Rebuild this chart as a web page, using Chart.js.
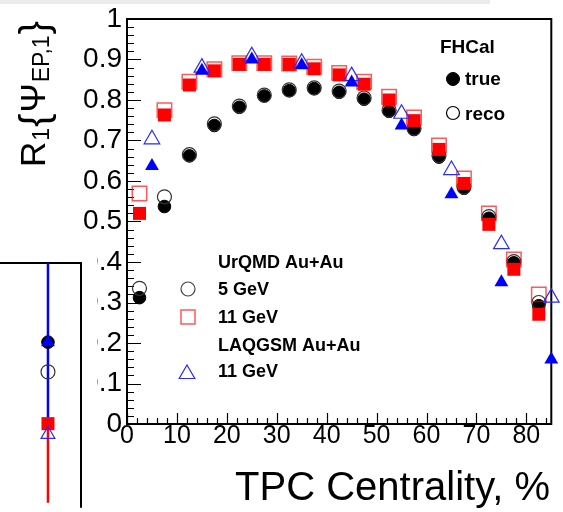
<!DOCTYPE html>
<html>
<head>
<meta charset="utf-8">
<script src="https://cdn.jsdelivr.net/npm/chart.js"></script>
<style>
  body { margin: 0; padding: 0; background: #fff; }
  #wrap { position: relative; width: 563px; height: 512px; overflow: hidden; }
  #main { position: absolute; left: 0; top: 0; }
  #inset { position: absolute; left: 0; top: 240px; background: #fff; }
  #topBar { position: absolute; left: 0; top: 0; width: 490px; height: 4px; background: #ebebeb; }
</style>
</head>
<body>
<div id="wrap">
  <canvas id="main" width="563" height="512"></canvas>
  <canvas id="inset" width="97" height="272"></canvas>
  <div id="topBar"></div>
</div>
<script>
const FONT = '"Liberation Sans", Arial, Helvetica, sans-serif';

// centrality bins (%)
const centUrqmd = [2.5, 7.5, 12.5, 17.5, 22.5, 27.5, 32.5, 37.5, 42.5, 47.5, 52.5, 57.5, 62.5, 67.5, 72.5, 77.5, 82.5];
const centLaqgsm = [5, 15, 25, 35, 45, 55, 65, 75, 85];

// R1{Psi_EP,1}
const urqmd5True  = [0.312, 0.537, 0.662, 0.737, 0.782, 0.810, 0.823, 0.828, 0.819, 0.802, 0.772, 0.727, 0.659, 0.582, 0.508, 0.398, 0.292];
const urqmd5Reco  = [0.335, 0.561, 0.665, 0.741, 0.785, 0.812, 0.825, 0.830, 0.822, 0.805, 0.775, 0.730, 0.663, 0.585, 0.512, 0.401, 0.300];
const urqmd11True = [0.520, 0.763, 0.837, 0.872, 0.888, 0.888, 0.888, 0.877, 0.862, 0.839, 0.800, 0.749, 0.678, 0.594, 0.493, 0.382, 0.271];
const urqmd11Reco = [0.569, 0.775, 0.845, 0.876, 0.891, 0.891, 0.890, 0.882, 0.867, 0.845, 0.808, 0.757, 0.688, 0.606, 0.520, 0.406, 0.320];
const laqgsmTrue  = [0.637, 0.872, 0.900, 0.886, 0.843, 0.737, 0.567, 0.350, 0.159];
const laqgsmReco  = [0.703, 0.880, 0.908, 0.892, 0.859, 0.766, 0.627, 0.444, 0.312];

// axis ticks
const xTickStep = 10, xMinorStep = 2;
const yTickStep = 0.1, yMinorStep = 0.02;

// cut-off piece of the neighbouring pad (arbitrary units)
const insetPos = 0.54;
const insetBlueLine = [1.0, 0.33];
const insetRedLine = [0.33, 0.0];
const insetTrueLevel = [0.67];
const insetRecoLevel = [0.546];
const insetSquareLevel = [0.33];
const insetOpenTriLevel = [0.285];

const pts = (xs, ys) => xs.map((x, i) => ({ x: x, y: ys[i] }));

function marker(ctx, kind, x, y, r, fill, stroke, lw) {
  ctx.save();
  ctx.beginPath();
  if (kind === 'circle') ctx.arc(x, y, r, 0, Math.PI * 2);
  else if (kind === 'rect') ctx.rect(x - r, y - r, 2 * r, 2 * r);
  else {
    ctx.moveTo(x, y - r);
    ctx.lineTo(x + r * 0.866, y + r / 2);
    ctx.lineTo(x - r * 0.866, y + r / 2);
    ctx.closePath();
  }
  if (fill) { ctx.fillStyle = fill; ctx.fill(); }
  if (stroke) { ctx.lineWidth = lw; ctx.strokeStyle = stroke; ctx.stroke(); }
  ctx.restore();
}

function text(ctx, s, x, y, font, align) {
  ctx.font = font;
  ctx.textAlign = align || 'left';
  ctx.textBaseline = 'alphabetic';
  ctx.fillStyle = '#000';
  ctx.fillText(s, x, y);
}

// ROOT-like frame with inner ticks
const rootFrame = {
  id: 'rootFrame',
  beforeDatasetsDraw(chart) {
    const { ctx, chartArea: a, scales: { x, y } } = chart;
    ctx.save();
    ctx.strokeStyle = '#000';
    ctx.lineWidth = 2;
    ctx.strokeRect(a.left, a.top, a.right - a.left, a.bottom - a.top);
    ctx.lineWidth = 1.2;
    ctx.beginPath();
    for (let v = 0; v <= 1.0001; v += yMinorStep) {
      const py = Math.round(y.getPixelForValue(v)) + 0.5;
      const major = Math.abs(v / yTickStep - Math.round(v / yTickStep)) < 1e-6;
      ctx.moveTo(a.left, py);
      ctx.lineTo(a.left + (major ? 14 : 7), py);
    }
    for (let v = 0; v <= 85; v += xMinorStep) {
      const px = Math.round(x.getPixelForValue(v)) + 0.5;
      const major = v % xTickStep === 0;
      ctx.moveTo(px, a.bottom);
      ctx.lineTo(px, a.bottom - (major ? 11 : 6));
    }
    ctx.stroke();
    ctx.restore();
  },
  afterDraw(chart) {
    const ctx = chart.ctx;
    ctx.save();
    // y title R_1{Psi_EP,1}
    ctx.translate(45, 167);
    ctx.rotate(-Math.PI / 2);
    const big = '35px ' + FONT, brace = '40px ' + FONT, small = '23px ' + FONT;
    const parts = [['R', big, 0], ['1', small, 4], ['{', brace, 3], ['\u03A8', big, 0], ['EP,1', small, 4], ['}', brace, 3]];
    let px = 0;
    parts.forEach(p => {
      ctx.font = p[1];
      ctx.fillStyle = '#000';
      ctx.textBaseline = 'alphabetic';
      ctx.fillText(p[0], px, p[2]);
      px += ctx.measureText(p[0]).width + 1;
    });
    ctx.restore();

    ctx.save();
    text(ctx, 'TPC Centrality, %', 550, 500, '40px ' + FONT, 'right');

    // FHCal legend
    const bold = 'bold 19px ' + FONT;
    text(ctx, 'FHCal', 440, 53, bold);
    marker(ctx, 'circle', 453, 79, 6.5, '#000', '#000', 1);
    text(ctx, 'true', 465, 85, bold);
    marker(ctx, 'circle', 453, 113, 6.5, null, '#000', 1.2);
    text(ctx, 'reco', 465, 120, bold);

    // generator legend
    const bold2 = 'bold 18px ' + FONT;
    text(ctx, 'UrQMD Au+Au', 218, 268, bold2);
    marker(ctx, 'circle', 188, 289, 7, null, '#444', 1.2);
    text(ctx, '5 GeV', 218, 295, bold2);
    marker(ctx, 'rect', 188, 317, 7, null, 'rgba(255,0,0,0.65)', 1.5);
    text(ctx, '11 GeV', 218, 323, bold2);
    text(ctx, 'LAQGSM Au+Au', 218, 351, bold2);
    marker(ctx, 'triangle', 187, 374, 9, null, '#2a2aff', 1.2);
    text(ctx, '11 GeV', 218, 377, bold2);
    ctx.restore();
  }
};

const filledCircle = { pointStyle: 'circle', pointRadius: 6.3, backgroundColor: '#000', borderColor: '#000', borderWidth: 1 };
const openCircle = { pointStyle: 'circle', pointRadius: 7, backgroundColor: 'rgba(0,0,0,0)', borderColor: '#333', borderWidth: 1.2 };
const filledSquare = { pointStyle: 'rect', pointRadius: 9.2, backgroundColor: '#ff0000', borderColor: '#ff0000', borderWidth: 0 };
const openSquare = { pointStyle: 'rect', pointRadius: 10.2, backgroundColor: 'rgba(0,0,0,0)', borderColor: 'rgba(255,0,0,0.65)', borderWidth: 1.5 };
const filledTri = { pointStyle: 'triangle', pointRadius: 8, backgroundColor: '#0000ff', borderColor: '#0000ff', borderWidth: 0 };
const openTri = { pointStyle: 'triangle', pointRadius: 9, backgroundColor: 'rgba(0,0,0,0)', borderColor: '#2a2aff', borderWidth: 1.2 };

const ds = (label, data, style, order) => Object.assign({ label: label, data: data, showLine: false, clip: false, order: order, pointHoverRadius: style.pointRadius }, style);

new Chart(document.getElementById('main'), {
  type: 'scatter',
  data: {
    datasets: [
      ds('UrQMD 5 GeV true', pts(centUrqmd, urqmd5True), filledCircle, 6),
      ds('UrQMD 5 GeV reco', pts(centUrqmd, urqmd5Reco), openCircle, 5),
      ds('UrQMD 11 GeV reco', pts(centUrqmd, urqmd11Reco), openSquare, 4),
      ds('UrQMD 11 GeV true', pts(centUrqmd, urqmd11True), filledSquare, 3),
      ds('LAQGSM 11 GeV reco', pts(centLaqgsm, laqgsmReco), openTri, 2),
      ds('LAQGSM 11 GeV true', pts(centLaqgsm, laqgsmTrue), filledTri, 1)
    ]
  },
  options: {
    responsive: false,
    animation: false,
    devicePixelRatio: 1,
    layout: { padding: { top: 15, right: 7, left: 0, bottom: 0 } },
    plugins: { legend: { display: false }, tooltip: { enabled: false } },
    scales: {
      x: {
        type: 'linear', min: 0, max: 85,
        grid: { display: false, drawTicks: false },
        border: { display: false },
        ticks: {
          stepSize: xTickStep, includeBounds: false, padding: 0, maxRotation: 0, autoSkip: false,
          color: '#000', font: { family: FONT, size: 25, lineHeight: 1 },
          callback: v => String(v)
        },
        afterFit: s => { s.height = 88; }
      },
      y: {
        type: 'linear', min: 0, max: 1,
        grid: { display: false, drawTicks: false },
        border: { display: false },
        ticks: {
          stepSize: yTickStep, padding: 5, autoSkip: false,
          color: '#000', font: { family: FONT, size: 28, lineHeight: 1 },
          callback: v => (Math.abs(v) < 1e-6 ? '0' : Math.abs(v - 1) < 1e-6 ? '1' : v.toFixed(1))
        },
        afterFit: s => { s.width = 127; }
      }
    }
  },
  plugins: [rootFrame]
});

// piece of the neighbouring pad on the left
const insetFrame = {
  id: 'insetFrame',
  beforeDatasetsDraw(chart) {
    const { ctx, chartArea: a } = chart;
    ctx.save();
    ctx.strokeStyle = '#000';
    ctx.lineWidth = 2;
    ctx.beginPath();
    ctx.moveTo(0, a.top);
    ctx.lineTo(a.right, a.top);
    ctx.lineTo(a.right, a.bottom + 5);
    ctx.stroke();
    ctx.restore();
  }
};

const line = (ys, color) => ({
  data: ys.map(v => ({ x: insetPos, y: v })), showLine: true, borderColor: color, borderWidth: 2.5,
  pointRadius: 0, clip: false
});
const single = (ys, style, order) => Object.assign({ data: ys.map(v => ({ x: insetPos, y: v })), clip: false, order: order }, style);

new Chart(document.getElementById('inset'), {
  type: 'scatter',
  data: {
    datasets: [
      Object.assign(line(insetRedLine, '#ff0000'), { order: 8 }),
      Object.assign(line(insetBlueLine, '#0000ff'), { order: 7 }),
      single(insetTrueLevel, filledCircle, 6),
      single(insetTrueLevel, filledTri, 5),
      single(insetRecoLevel, openCircle, 4),
      single(insetSquareLevel, filledSquare, 3),
      single(insetOpenTriLevel, Object.assign({}, openTri, { pointRadius: 8 }), 2)
    ]
  },
  options: {
    responsive: false,
    animation: false,
    devicePixelRatio: 1,
    layout: { padding: { top: 23, right: 16, left: 0, bottom: 0 } },
    plugins: { legend: { display: false }, tooltip: { enabled: false } },
    scales: {
      x: { type: 'linear', min: 0, max: 1, display: false },
      y: { type: 'linear', min: 0, max: 1, display: false }
    }
  },
  plugins: [insetFrame]
});
</script>
</body>
</html>
